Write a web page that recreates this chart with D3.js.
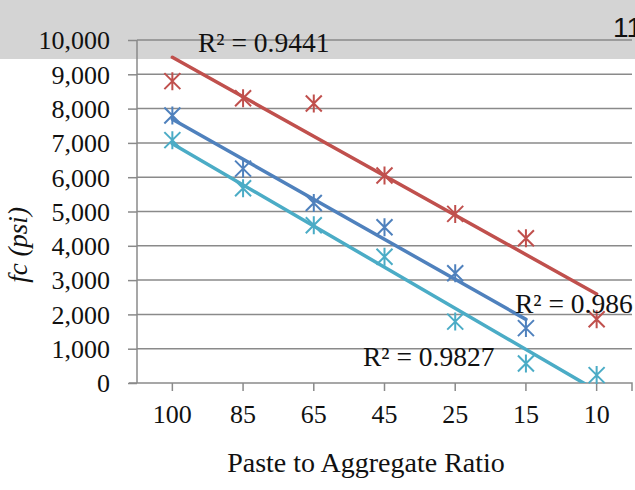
<!DOCTYPE html>
<html>
<head>
<meta charset="utf-8">
<script src="https://d3js.org/d3.v7.min.js"></script>
<style>
  body { margin: 0; background: #fff; }
  svg { display: block; }
</style>
</head>
<body>
<svg id="chart" width="635" height="490"></svg>
<script>
// categories on the x axis (paste to aggregate ratio)
const ratios = ['100', '85', '65', '45', '25', '15', '10'];

// fc (psi) per series (null = no point)
const redVals  = [8800, 8300, 8150, 6050, 4930, 4220, 1860];
const blueVals = [7800, 6250, 5250, 4540, 3200, 1600, null];
const cyanVals = [7080, 5680, 4600, 3680, 1790, 570, 230];

const yTicks = [0, 1000, 2000, 3000, 4000, 5000, 6000, 7000, 8000, 9000, 10000];

const r2Labels = ['R² = 0.9441', 'R² = 0.986', 'R² = 0.9827'];

const width = 635, height = 490;
const plotL = 137, plotR = 632, plotT = 40, plotB = 383;
const serif = '"Liberation Serif", "Times New Roman", serif';

const svg = d3.select('#chart');

// grey page header band behind the top of the chart
svg.append('rect')
  .attr('x', 0).attr('y', 0)
  .attr('width', width).attr('height', 59)
  .attr('fill', '#d4d4d4');
svg.append('text')
  .attr('x', 613).attr('y', 37)
  .attr('fill', '#111')
  .style('font-family', '"Liberation Sans", Arial, sans-serif')
  .style('font-size', '28px')
  .text('11');

const x = d3.scaleBand().domain(ratios).range([plotL, plotR]).padding(0);
const cx = d => x(d) + x.bandwidth() / 2;
const y = d3.scaleLinear().domain([0, 10000]).range([plotB, plotT]);

const axisColor = '#8a8a8a';

// horizontal gridlines
svg.append('g')
  .selectAll('line')
  .data(yTicks.filter(t => t > 0))
  .join('line')
    .attr('x1', plotL).attr('x2', plotR)
    .attr('y1', d => y(d)).attr('y2', d => y(d))
    .attr('stroke', axisColor)
    .attr('stroke-width', 1.5);

// y axis
const yAxis = svg.append('g')
  .attr('transform', `translate(${plotL},0)`)
  .call(d3.axisLeft(y).tickValues(yTicks).tickSize(9).tickPadding(18)
    .tickFormat(d3.format(',')));
yAxis.selectAll('.tick line').attr('stroke', axisColor).attr('stroke-width', 1.5);
yAxis.select('.domain').attr('stroke', axisColor).attr('stroke-width', 1.5)
  .attr('d', `M0,${plotT}V${plotB}`);
yAxis.selectAll('.tick text')
  .style('font-family', serif)
  .style('font-size', '26px')
  .attr('fill', '#111')
  .attr('dy', '0.34em');

// x axis
const xAxis = svg.append('g')
  .attr('transform', `translate(0,${plotB})`)
  .call(d3.axisBottom(x).tickSize(8).tickPadding(14));
xAxis.selectAll('.tick line').attr('stroke', axisColor).attr('stroke-width', 1.5);
xAxis.select('.domain').attr('stroke', axisColor).attr('stroke-width', 1.5)
  .attr('d', `M${plotL - 8},0H${plotR}V8`);
xAxis.selectAll('.tick text')
  .style('font-family', serif)
  .style('font-size', '26px')
  .attr('fill', '#111');

// axis titles
svg.append('text')
  .attr('x', 366).attr('y', 472)
  .attr('text-anchor', 'middle')
  .attr('fill', '#111')
  .style('font-family', serif)
  .style('font-size', '28px')
  .text('Paste to Aggregate Ratio');
svg.append('text')
  .attr('transform', 'translate(27,245) rotate(-90)')
  .attr('text-anchor', 'middle')
  .attr('fill', '#111')
  .style('font-family', serif)
  .style('font-size', '27px')
  .style('font-style', 'italic')
  .text('fc (psi)');

// clip for trendlines
svg.append('clipPath').attr('id', 'plot-clip')
  .append('rect')
  .attr('x', plotL).attr('y', plotT - 5)
  .attr('width', plotR - plotL).attr('height', plotB - plotT + 5);

const series = [
  { vals: redVals,  color: '#c0504d' },
  { vals: blueVals, color: '#4f81bd' },
  { vals: cyanVals, color: '#4bacc6' }
];

// star markers: X with a vertical bar
function star(g, px, py, color) {
  const s = 8;
  g.append('path')
    .attr('d', `M${px - s},${py - s}L${px + s},${py + s}M${px - s},${py + s}L${px + s},${py - s}M${px},${py - s - 1}V${py + s + 1}`)
    .attr('stroke', color)
    .attr('stroke-width', 2)
    .attr('fill', 'none');
}

const markers = svg.append('g');
series.forEach(s => {
  s.vals.forEach((v, i) => {
    if (v == null) return;
    star(markers, cx(ratios[i]), y(v), s.color);
  });
});

// linear trendlines (least squares on category index)
const trends = svg.append('g').attr('clip-path', 'url(#plot-clip)');
series.forEach(s => {
  const pts = s.vals.map((v, i) => [i + 1, v]).filter(p => p[1] != null);
  const mx = d3.mean(pts, p => p[0]);
  const my = d3.mean(pts, p => p[1]);
  const slope = d3.sum(pts, p => (p[0] - mx) * (p[1] - my)) / d3.sum(pts, p => (p[0] - mx) ** 2);
  const f = t => my + slope * (t - mx);
  const i0 = pts[0][0], i1 = pts[pts.length - 1][0];
  trends.append('line')
    .attr('x1', cx(ratios[i0 - 1])).attr('y1', y(f(i0)))
    .attr('x2', cx(ratios[i1 - 1])).attr('y2', y(f(i1)))
    .attr('stroke', s.color)
    .attr('stroke-width', 3.5)
    .attr('stroke-linecap', 'round');
});

// R² labels
const r2Pos = [[198, 52], [515, 313], [363, 366]];
svg.append('g')
  .selectAll('text')
  .data(r2Labels)
  .join('text')
    .attr('x', (d, i) => r2Pos[i][0])
    .attr('y', (d, i) => r2Pos[i][1])
    .attr('fill', '#111')
    .style('font-family', serif)
    .style('font-size', '27.5px')
    .text(d => d);
</script>
</body>
</html>
